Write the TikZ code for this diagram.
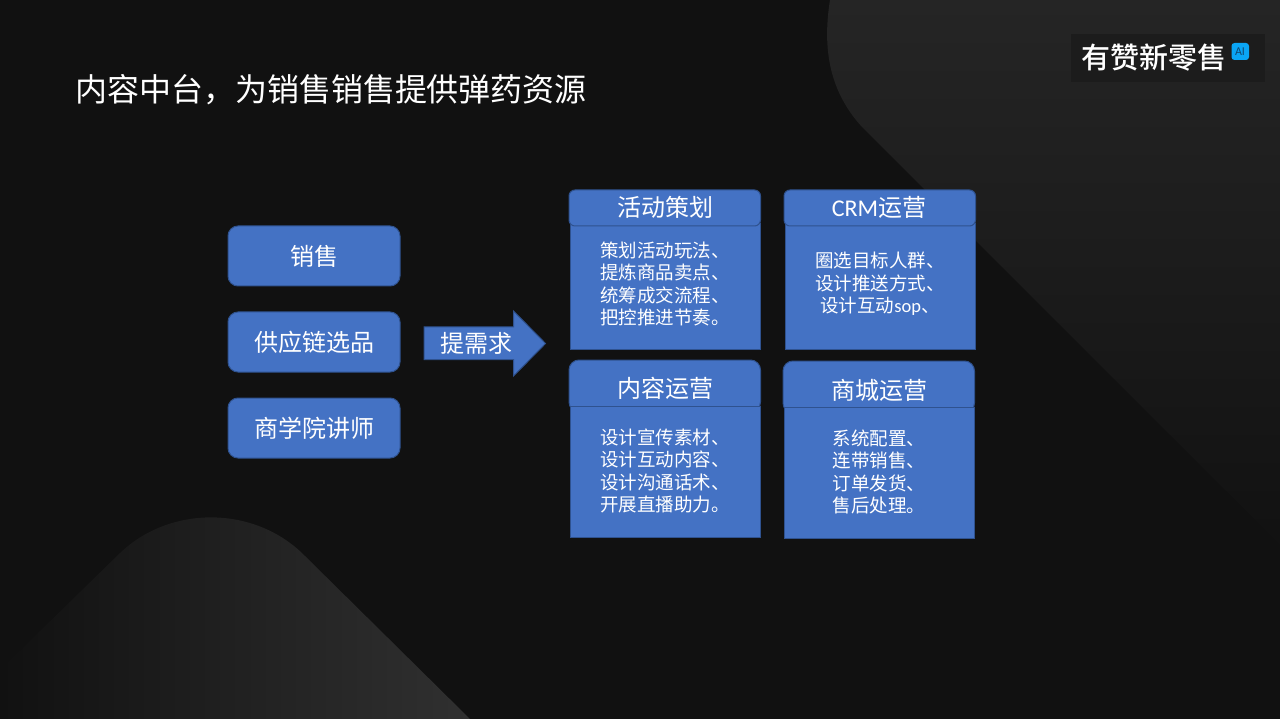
\documentclass[tikz,border=0pt]{standalone}
\usepackage{fontspec}
\setmainfont{Noto Sans CJK SC}
\newfontfamily\logofont{Noto Sans CJK SC Medium}
\newfontfamily\latinfont{Carlito}
\definecolor{bgdark}{HTML}{111111}
\definecolor{blockfill}{HTML}{4472C4}
\definecolor{blockline}{HTML}{2F528F}
\definecolor{logobg}{HTML}{1C1C1C}
\definecolor{shapetop}{HTML}{252525}
\definecolor{shaperight}{HTML}{303030}
\definecolor{badge}{HTML}{0AA5F5}
\definecolor{badgetext}{HTML}{12466E}
\tikzset{
  x=1pt,y=-1pt,
  every node/.style={inner sep=0pt,outer sep=0pt,text=white,align=center},
  roundbox/.style={draw=blockline,fill=blockfill,line width=1pt,rounded corners=10pt},
  bodybox/.style={draw=blockline,fill=blockfill,line width=1pt},
  headsmall/.style={draw=blockline,fill=blockfill,line width=1pt,rounded corners=6pt},
  headbig/.style={draw=blockline,fill=blockfill,line width=1pt,rounded corners=10pt},
  big/.style={font=\fontsize{24}{28}\selectfont},
  small/.style={font=\fontsize{18.5}{22.6}\selectfont},
}
\begin{document}
\begin{tikzpicture}
\useasboundingbox (0,0) rectangle (1280,719);
\fill[bgdark] (0,0) rectangle (1280,719);
% background shapes
\begin{scope}
\clip (830,0) .. controls (822,50) and (830,92) .. (862,127) -- (1280,545) -- (1280,0) -- cycle;
\shade[top color=shapetop,bottom color=bgdark] (820,0) rectangle (1280,560);
\end{scope}
\begin{scope}
\clip (0,670) -- (120,553) .. controls (170,505) and (255,505) .. (305,556) -- (470,719) -- (0,719) -- cycle;
\shade[left color=bgdark,right color=shaperight] (0,500) rectangle (470,719);
\end{scope}
% logo
\fill[logobg] (1071,34) rectangle (1265,82);
\node[font=\logofont\fontsize{29}{30}\selectfont] (logo) at (1154,58) {有赞新零售};
\fill[badge,rounded corners=3pt] (1231.5,43) rectangle (1249,60);
\node[font=\latinfont\fontsize{12}{12}\selectfont,text=badgetext] (ai) at (1240,51.5) {AI};
% title
\node[anchor=west,font=\fontsize{32}{36}\selectfont] (title) at (75,90) {内容中台，为销售销售提供弹药资源};
% left boxes
\draw[roundbox] (228,226) rectangle (400,286);
\node[big] (sales) at (314,256) {销售};
\draw[roundbox] (228,312) rectangle (400,372);
\node[big] (supply) at (314,342) {供应链选品};
\draw[roundbox] (228,398) rectangle (400,458);
\node[big] (school) at (314,428) {商学院讲师};
% arrow
\draw[bodybox,line join=miter] (424,327) -- (513.5,327) -- (513.5,311) -- (545.5,343.5) -- (513.5,376) -- (513.5,359.5) -- (424,359.5) -- cycle;
\node[big] (req) at (476,343) {提需求};
% cards
\draw[bodybox] (570.5,224) rectangle (760.5,350);
\draw[headsmall] (569,190) rectangle (760.5,226);
\node[big] (h1) at (665,207.5) {活动策划};
\node[small] (b1) at (665,284) {策划活动玩法、\\提炼商品卖点、\\统筹成交流程、\\把控推进节奏。};
\draw[bodybox] (785,224) rectangle (975.5,350);
\draw[headsmall] (784,190) rectangle (975.5,226);
\node[big] (h2) at (879,207.5) {{\latinfont CRM}运营};
\node[small] (b2) at (880,284) {圈选目标人群、\\设计推送方式、\\设计互动{\latinfont sop}、};
\draw[headbig] (569,360) rectangle (760.5,412);
\draw[bodybox] (570.5,406) rectangle (760.5,537);
\node[big] (h3) at (665,388) {内容运营};
\node[small] (b3) at (665,471) {设计宣传素材、\\设计互动内容、\\设计沟通话术、\\开展直播助力。};
\draw[headbig] (783,361) rectangle (974.5,413);
\draw[bodybox] (784,407) rectangle (974.5,538.5);
\node[big] (h4) at (879,390) {商城运营};
\node[small] (b4) at (879,472) {系统配置、\\连带销售、\\订单发货、\\售后处理。};
\end{tikzpicture}
\end{document}
